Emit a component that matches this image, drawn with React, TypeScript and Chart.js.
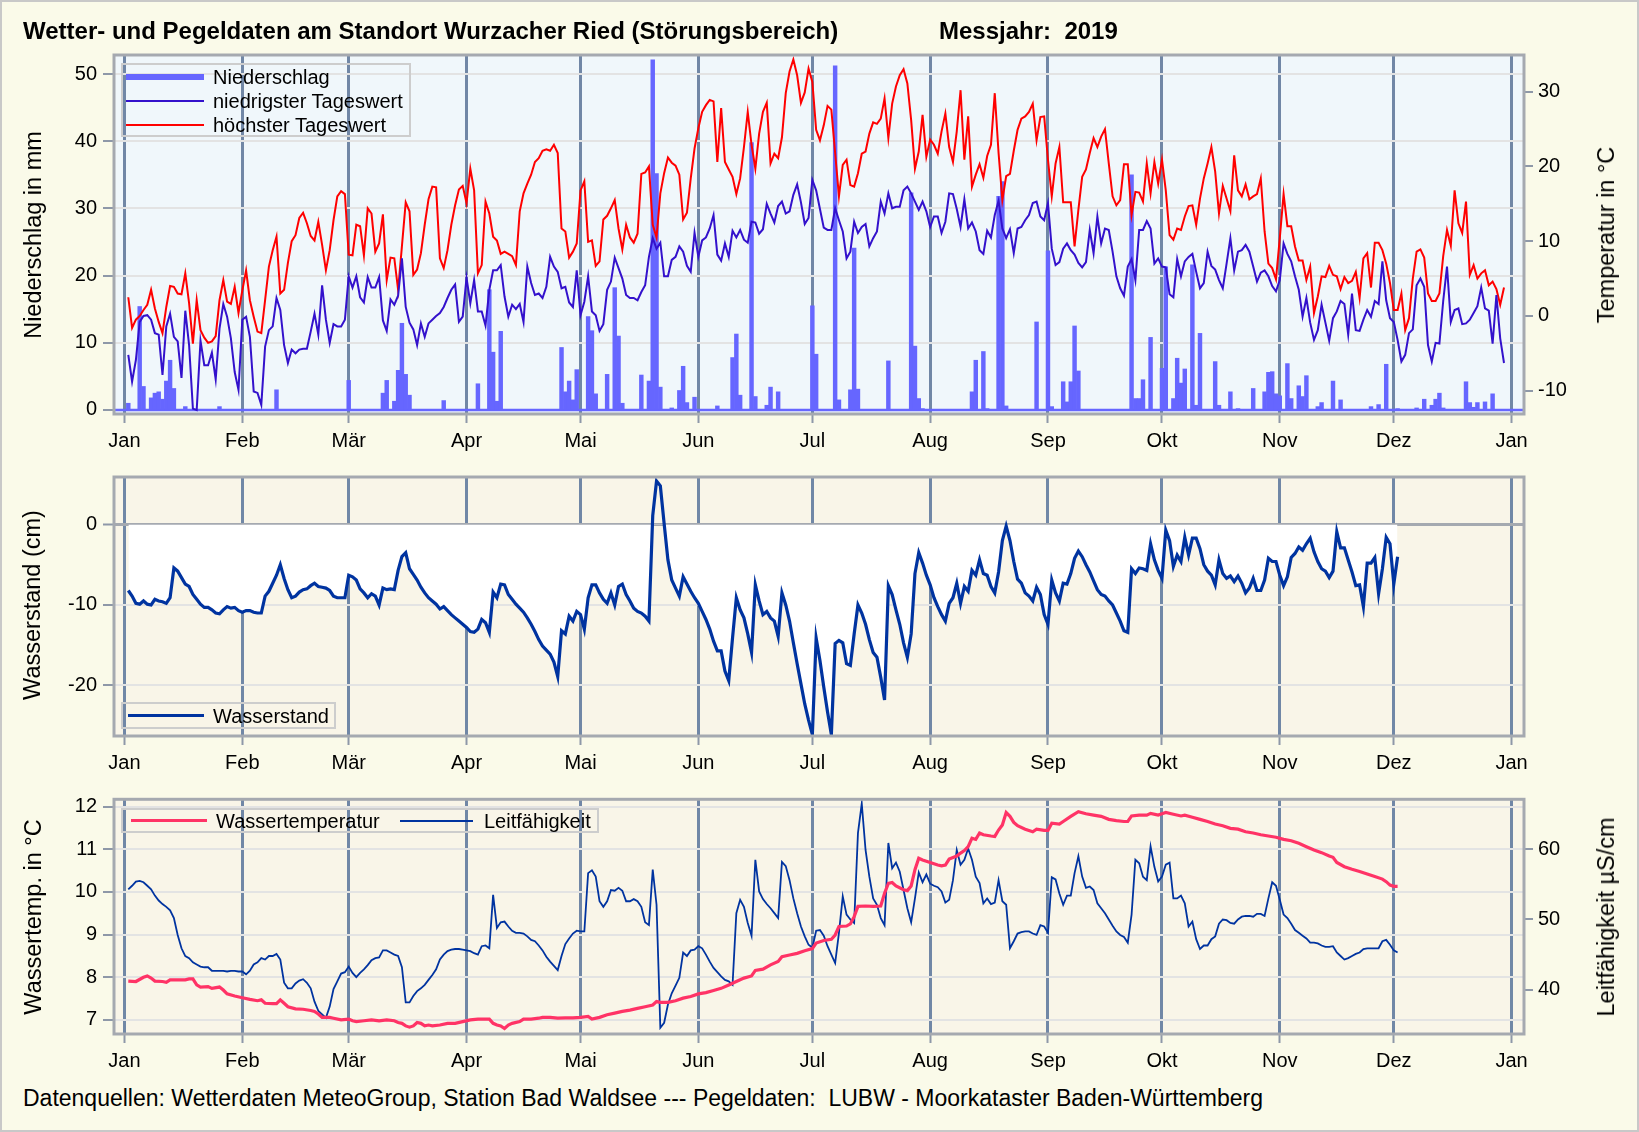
import React, { useEffect, useRef } from "react";
import { Chart, registerables } from "chart.js";

// ---------------- data ----------------
const monthStarts = [0, 31, 59, 90, 120, 151, 181, 212, 243, 273, 304, 334, 365];
const monthLabels = ["Jan", "Feb", "Mär", "Apr", "Mai", "Jun", "Jul", "Aug", "Sep", "Okt", "Nov", "Dez", "Jan"];

const precipTicks = [0, 10, 20, 30, 40, 50];
const airTempTicks = [-10, 0, 10, 20, 30];
const waterLevelTicks = [-20, -10, 0];
const waterTempTicks = [7, 8, 9, 10, 11, 12];
const conductTicks = [40, 50, 60];

// daily air temperature (day of year 1..363)
const highTemps = [
  2.5, -1.6, -0.5, 0, 0.8, 1.5, 3.5, 1.0, -0.8, -2.3,
  1.2, 4.0, 3.9, 3.0, 2.9, 5.7, 1.7, -3.7, 2.1, -1.9,
  -2.9, -3.6, -3.4, -2.7, 2.1, 4.8, 1.9, 1.6, 3.9, 0.4,
  3.4, 6.1, 2.1, -0.1, -2.1, -2.3, 2.1, 6.6, 8.8, 10.6,
  3.0, 3.5, 7.1, 10.0, 10.8, 13.1, 13.8, 12.4, 10.7, 10.1,
  12.6, 9.5, 6.1, 8.8, 12.8, 16.0, 16.7, 16.3, 8.2, 8.1,
  12.2, 12.0, 8.1, 14.4, 13.7, 8.6, 9.7, 13.6, 4.8, 7.8,
  7.7, 3.5, 9.3, 15.2, 14.0, 5.5, 6.2, 8.4, 12.2, 15.6,
  17.3, 17.2, 7.7, 6.4, 8.8, 12.2, 14.8, 16.9, 17.4, 15.1,
  19.7, 16.8, 5.7, 6.8, 15.3, 13.7, 10.6, 10.1, 8.3, 8.6,
  8.3, 8.0, 6.8, 14.0, 16.4, 17.7, 18.9, 20.6, 21.1, 22.1,
  22.3, 22.1, 22.9, 21.8, 11.7, 11.3, 7.8, 8.6, 9.7, 16.8,
  18.0, 9.9, 10.1, 6.7, 7.3, 12.9, 13.4, 14.4, 15.5, 11.7,
  8.9, 12.2, 10.5, 9.8, 11.0, 19.0, 19.2, 20.0, 12.2, 10.5,
  16.4, 19.1, 21.2, 20.5, 20.1, 18.9, 12.9, 13.8, 18.4, 22.4,
  25.1, 27.3, 28.2, 28.9, 28.7, 20.6, 27.8, 20.6, 19.6, 18.6,
  16.3, 18.4, 22.6, 27.3, 22.9, 19.7, 24.4, 27.3, 28.5, 20.4,
  21.7, 21.1, 23.9, 29.8, 32.7, 34.3, 32.2, 28.5, 29.9, 33.1,
  31.3, 24.9, 23.5, 25.5, 28.1, 27.6, 21.8, 16.0, 20.2, 20.9,
  17.5, 17.3, 19.1, 21.7, 22.0, 24.4, 25.9, 25.7, 26.4, 29.1,
  23.8, 28.4, 30.7, 32.2, 33.0, 31.1, 26.2, 19.7, 22.0, 26.9,
  21.3, 23.6, 22.9, 21.7, 24.7, 27.1, 22.6, 20.6, 24.7, 30.2,
  20.9, 26.7, 17.3, 18.9, 20.3, 18.5, 21.4, 22.9, 29.8, 21.8,
  15.5, 18.7, 19.0, 22.1, 24.9, 26.4, 26.7, 27.3, 28.4, 23.5,
  26.6, 26.7, 20.9, 16.0, 20.4, 22.6, 15.2, 15.2, 15.2, 9.3,
  14.2, 18.6, 19.6, 21.8, 23.8, 22.6, 24.0, 25.0, 20.4, 16.0,
  14.8, 15.5, 20.3, 20.3, 13.5, 16.6, 16.5, 15.3, 20.4, 16.4,
  20.6, 17.7, 20.9, 16.8, 10.8, 10.2, 11.7, 11.5, 13.3, 14.7,
  14.8, 12.2, 15.7, 18.4, 20.4, 22.6, 19.3, 13.7, 17.4, 15.7,
  14.0, 21.5, 16.8, 16.0, 17.6, 15.6, 16.0, 16.3, 18.4, 11.3,
  7.0, 6.4, 4.9, 10.4, 16.3, 12.0, 12.0, 9.3, 7.4, 7.4,
  4.8, 6.6, 0.4, 2.6, 5.3, 5.2, 6.7, 5.5, 5.3, 3.6,
  5.2, 4.4, 4.7, 5.9, 2.4, 7.7, 8.4, 3.8, 9.8, 9.8,
  8.8, 7.0, 4.4, 0.8, 0.8, 3.0, -1.9, -0.3, 5.0, 8.6,
  8.9, 7.8, 3.0, 2.0, 2.0, 3.0, 8.0, 11.5, 9.4, 16.8,
  12.4, 11.1, 15.3, 5.5, 6.8, 5.0, 5.7, 6.1, 4.1, 4.6,
  3.6, 1.5, 3.8,
];

const lowTemps = [
  -5.2, -8.8, -5.9, -0.8, 0.0, 0.1, -0.5, -2.3, -2.5, -7.9,
  -1.4, 0.3, -2.8, -3.4, -8.3, 0.7, -3.9, -12.4, -12.6, -3.3,
  -6.6, -6.6, -4.9, -8.5, -1.7, 1.6, -0.1, -3.0, -7.5, -9.9,
  -0.5, -0.1, -2.8, -10.1, -10.3, -11.9, -4.1, -1.9, -1.4, 2.4,
  0.8, -3.9, -6.3, -4.5, -5.0, -4.5, -4.4, -4.4, -2.1, 0.3,
  -2.5, 4.1, -0.5, -3.6, -1.1, -1.4, -1.4, -0.5, 5.3, 3.8,
  5.3, 2.5, 1.8, 5.2, 3.8, 3.8, 5.2, -0.6, -2.0, 2.2,
  1.5, 2.7, 7.7, 1.2, -0.9, -1.8, -3.9, -1.0, -2.8, -1.0,
  -0.5, 0.0, 0.4, 1.2, 2.4, 3.5, 4.2, -0.8, -0.1, 5.1,
  1.7, 4.8, 0.6, 0.6, -1.3, 3.5, 6.1, 6.1, 6.8, 2.6,
  -0.1, 1.5, 0.9, 1.6, -0.8, 6.6, 4.4, 2.8, 3.0, 2.4,
  3.9, 7.9, 6.6, 5.9, 3.7, 3.9, 1.8, 1.2, 6.1, 0.1,
  1.9, 5.3, 0.6, 0.1, -2.0, -1.1, 3.5, 4.6, 7.8, 6.4,
  5.0, 2.8, 2.4, 2.4, 2.1, 3.2, 4.1, 7.9, 10.4, 9.0,
  9.8, 5.3, 5.3, 7.5, 7.9, 9.3, 8.6, 6.7, 5.9, 11.1,
  7.9, 10.1, 10.5, 11.7, 13.5, 8.2, 7.4, 9.7, 7.9, 11.4,
  10.5, 11.5, 10.2, 9.8, 12.6, 12.5, 11.0, 11.6, 15.0, 13.7,
  12.5, 14.7, 15.3, 13.7, 14.0, 16.2, 17.6, 15.2, 12.3, 13.1,
  18.2, 16.8, 14.3, 11.8, 11.5, 11.5, 14.4, 12.8, 11.3, 7.7,
  8.6, 12.6, 11.1, 11.9, 12.3, 9.3, 10.4, 11.3, 15.3, 13.7,
  16.4, 14.4, 14.6, 14.6, 16.8, 17.3, 16.4, 15.3, 14.2, 15.3,
  14.0, 11.9, 13.3, 13.3, 11.1, 12.6, 16.4, 16.3, 14.3, 11.9,
  15.6, 11.7, 12.5, 11.3, 8.8, 8.3, 11.4, 10.5, 13.5, 15.4,
  11.7, 10.4, 11.6, 8.4, 11.7, 11.9, 12.8, 13.5, 15.1, 15.3,
  13.3, 12.8, 15.1, 9.0, 6.8, 7.2, 9.0, 9.7, 8.8, 8.2,
  7.1, 6.5, 7.2, 11.5, 8.4, 13.3, 9.7, 11.7, 11.5, 8.6,
  5.3, 3.7, 2.7, 6.6, 7.6, 4.8, 11.5, 11.5, 12.7, 11.7,
  7.0, 7.7, 6.6, 6.5, 2.9, 2.5, 7.6, 5.3, 7.3, 7.9,
  8.3, 5.9, 3.7, 4.4, 8.6, 6.7, 6.2, 4.8, 3.7, 7.0,
  10.4, 6.1, 8.6, 8.8, 9.5, 8.6, 6.6, 4.6, 5.8, 6.1,
  5.3, 4.0, 3.3, 4.8, 9.7, 8.3, 7.3, 5.3, 3.5, -0.1,
  2.4, -0.9, -3.2, -1.9, 1.5, -0.9, -3.3, -0.3, 0.6, 2.0,
  1.6, -2.5, 3.0, -1.9, -2.0, -0.5, 0.8, -0.1, 2.0, 1.6,
  7.3, 2.1, -0.3, -0.8, -3.2, -6.1, -5.2, -2.3, -1.8, 4.1,
  5.0, 3.9, -3.9, -6.1, -3.6, -3.7, 2.0, 6.6, -0.8, 0.8,
  1.0, -1.1, -1.0, -0.5, 0.4, 1.3, 3.8, 1.0, 0.7, -3.7,
  2.8, -3.0, -6.3,
];

// precipitation: days with rain and their amounts (mm)
const precipDays = [
  1, 4, 5, 7, 8, 9, 10, 11, 12, 13, 16, 25, 40, 59, 68, 69, 71, 72, 73, 74, 75, 84,
  93, 96, 97, 98, 99, 115, 116, 117, 118, 119, 122, 123, 124, 127, 129, 130, 131,
  136, 138, 139, 140, 141, 144, 146, 147, 148, 150, 156, 160, 161, 162, 165, 166,
  169, 170, 172, 181, 182, 187, 188, 191, 192, 193, 201, 207, 208, 209, 210, 223,
  224, 226, 227, 230, 231, 232, 240, 243, 244, 247, 248, 249, 250, 251, 265, 266,
  267, 268, 270, 273, 274, 276, 277, 278, 279, 281, 282, 283, 287, 288, 291, 293,
  297, 300, 301, 302, 303, 304, 306, 307, 309, 310, 311, 314, 315, 318, 320, 328,
  330, 332, 335, 340, 342, 344, 345, 346, 347, 353, 354, 355, 356, 358, 360,
];
const precipValues = [
  1.0, 15.4, 3.5, 1.8, 2.5, 2.7, 1.6, 4.3, 7.4, 3.2, 0.5, 0.5, 3.0, 4.4, 2.5, 4.4, 1.3, 5.9, 12.9, 5.3, 2.2, 1.4,
  3.9, 17.9, 8.6, 1.3, 11.7, 9.3, 2.7, 4.3, 1.5, 6.0, 13.9, 11.8, 2.4, 5.3, 18.2, 11.0, 1.0,
  5.2, 4.3, 52.1, 35.2, 3.4, 0.3, 2.9, 6.5, 1.1, 1.9, 0.6, 7.8, 11.3, 2.2, 39.8, 2.0,
  0.7, 3.4, 2.7, 15.5, 8.3, 51.2, 1.5, 3.0, 24.1, 3.1, 7.3, 32.3, 9.5, 1.7, 0.2, 2.7,
  7.4, 8.7, 0.2, 31.8, 34.0, 0.6, 13.1, 23.7, 0.5, 4.2, 1.2, 4.2, 12.5, 5.8, 35.0, 1.7,
  1.7, 4.5, 10.8, 6.2, 21.3, 1.7, 7.7, 4.0, 6.1, 21.6, 0.7, 11.4, 7.2, 0.7, 2.7, 0.2,
  3.2, 2.7, 5.6, 5.7, 2.4, 2.1, 6.9, 1.7, 3.6, 2.0, 5.1, 0.5, 1.1, 4.3, 1.5, 0.5,
  0.8, 6.8, 0.2, 0.3, 1.6, 0.7, 1.6, 2.5, 0.3, 4.2, 1.1, 0.4, 1.1, 1.2, 2.4,
];

// water level (cm), day 1..335
const waterLevel = [
  -8.2, -8.9, -9.8, -9.9, -9.5, -9.9, -10.0, -9.3, -9.5, -9.6,
  -9.8, -9.1, -5.4, -5.8, -6.6, -7.4, -7.7, -8.7, -9.3, -9.9,
  -10.3, -10.3, -10.6, -11.0, -11.1, -10.6, -10.2, -10.4, -10.3, -10.7,
  -10.9, -10.7, -10.7, -10.9, -11.0, -11.0, -8.9, -8.3, -7.3, -6.3,
  -5.0, -6.7, -8.1, -9.1, -8.9, -8.4, -8.1, -8.0, -7.6, -7.3,
  -7.7, -7.8, -7.9, -8.2, -8.9, -9.1, -9.1, -9.1, -6.3, -6.5,
  -6.9, -8.0, -8.5, -9.1, -8.6, -8.9, -10.0, -7.9, -8.1, -8.0,
  -8.1, -5.7, -4.0, -3.5, -5.5, -6.2, -6.9, -7.8, -8.5, -9.1,
  -9.5, -9.9, -10.5, -10.2, -10.7, -11.2, -11.6, -12.0, -12.4, -12.8,
  -13.3, -13.4, -13.0, -11.8, -12.2, -13.4, -8.4, -9.1, -7.4, -7.5,
  -8.7, -9.3, -9.9, -10.4, -10.9, -11.6, -12.4, -13.3, -14.3, -15.1,
  -15.6, -16.1, -17.1, -18.9, -13.2, -13.6, -11.4, -12.0, -10.8, -11.2,
  -13.0, -9.1, -7.5, -7.5, -8.5, -9.3, -9.8, -8.5, -10.0, -7.7,
  -7.4, -8.7, -9.5, -10.4, -10.8, -11.0, -11.4, -12.0, 1.1, 5.4,
  4.8, 0.1, -4.4, -6.9, -7.9, -8.9, -6.5, -7.4, -8.3, -9.1,
  -9.8, -10.8, -11.8, -13.0, -14.5, -15.7, -15.7, -18.2, -19.4, -14.1,
  -9.1, -10.6, -11.6, -13.6, -15.9, -7.5, -9.5, -11.2, -10.8, -11.6,
  -12.0, -13.9, -8.5, -10.0, -12.0, -14.7, -17.3, -19.8, -22.3, -24.3,
  -26.1, -14.1, -16.9, -20.2, -23.3, -26.1, -14.8, -14.4, -14.7, -17.3,
  -17.5, -13.6, -10.0, -11.0, -12.4, -14.3, -15.9, -16.5, -19.0, -21.8,
  -7.6, -8.7, -10.6, -12.4, -14.7, -16.5, -13.6, -6.1, -3.5, -4.8,
  -6.3, -7.5, -9.1, -10.2, -11.2, -12.0, -9.8, -9.1, -7.3, -9.8,
  -7.7, -8.3, -5.7, -6.3, -4.4, -6.1, -6.3, -7.7, -8.5, -5.9,
  -2.0, -0.2, -2.0, -4.6, -6.8, -7.3, -8.5, -8.9, -9.5, -7.8,
  -8.7, -11.2, -12.4, -6.9, -8.5, -9.5, -7.3, -7.4, -6.1, -4.2,
  -3.3, -4.0, -5.0, -5.9, -7.0, -8.1, -8.7, -8.9, -9.5, -10.0,
  -11.0, -12.0, -13.2, -13.4, -5.5, -6.1, -5.4, -5.5, -5.7, -2.4,
  -4.4, -5.7, -6.7, -0.7, -2.0, -5.2, -3.8, -4.6, -1.6, -3.8,
  -1.7, -1.7, -3.0, -5.0, -5.8, -6.3, -7.5, -4.4, -6.1, -6.7,
  -6.4, -7.1, -6.4, -7.3, -8.5, -7.9, -6.7, -8.2, -8.2, -6.9,
  -4.2, -4.6, -4.6, -6.3, -7.6, -6.5, -4.1, -3.6, -2.8, -3.2,
  -2.4, -1.7, -3.4, -4.6, -5.5, -5.8, -6.6, -5.8, -0.9, -2.9,
  -2.9, -4.4, -5.9, -7.6, -7.5, -10.2, -4.8, -4.8, -4.1, -8.6,
  -5.5, -1.6, -2.4, -7.4, -4.0,
];

// water temperature (°C): sampled days and values
const waterTempDays = [
  1, 3, 5, 6, 7, 8, 10, 11, 12, 14, 16, 17, 18, 19, 20, 22, 23, 25, 26, 27, 29, 31, 33, 35, 36, 37, 39, 40,
  41, 42, 43, 45, 47, 49, 50, 51, 52, 54, 55, 57, 59, 60, 61, 63, 65, 67, 69, 71, 72, 73, 74, 75, 76, 77,
  78, 79, 80, 81, 83, 85, 87, 89, 91, 93, 95, 96, 97, 98, 99, 100, 101, 102, 104, 105, 107, 109, 110, 112,
  114, 116, 118, 120, 122, 123, 125, 127, 129, 131, 133, 135, 137, 139, 140, 141, 143, 145, 147, 149, 151,
  153, 155, 157, 159, 161, 163, 165, 166, 168, 170, 172, 173, 175, 177, 179, 181, 182, 184, 186, 187, 188,
  190, 191, 192, 193, 195, 197, 199, 200, 201, 202, 203, 205, 206, 207, 208, 209, 210, 212, 214, 215, 216,
  217, 219, 220, 221, 222, 223, 224, 225, 226, 228, 229, 230, 231, 232, 233, 234, 235, 237, 239, 240, 242,
  243, 244, 246, 247, 249, 251, 253, 255, 257, 259, 261, 263, 264, 265, 267, 269, 270, 272, 273, 274, 276,
  278, 279, 281, 283, 285, 287, 289, 291, 293, 295, 297, 299, 301, 303, 305, 307, 309, 311, 313, 315, 317,
  318, 319, 321, 323, 325, 327, 329, 331, 332, 333, 334, 335,
];
const waterTempValues = [
  7.91, 7.9, 8.0, 8.03, 7.98, 7.91, 7.9, 7.88, 7.94, 7.94, 7.94, 7.96, 7.96, 7.82, 7.77, 7.78, 7.74, 7.77, 7.7, 7.61, 7.56, 7.52, 7.48, 7.45, 7.47, 7.39, 7.38, 7.38,
  7.47, 7.39, 7.31, 7.26, 7.25, 7.22, 7.2, 7.14, 7.06, 7.06, 7.04, 7.0, 7.02, 6.98, 6.96, 6.98, 7.0, 6.98, 7.0, 6.98, 6.94, 6.92, 6.86, 6.83, 6.86, 6.94,
  6.92, 6.86, 6.88, 6.86, 6.88, 6.92, 6.92, 6.96, 7.0, 7.02, 7.02, 7.02, 6.92, 6.88, 6.86, 6.8, 6.88, 6.92, 6.96, 7.02, 7.02, 7.04, 7.06, 7.06,
  7.04, 7.05, 7.05, 7.06, 7.08, 7.02, 7.06, 7.12, 7.16, 7.2, 7.23, 7.27, 7.31, 7.35, 7.43, 7.41, 7.41, 7.45, 7.51, 7.55, 7.61,
  7.64, 7.69, 7.74, 7.82, 7.9, 7.98, 8.03, 8.16, 8.19, 8.29, 8.37, 8.48, 8.52, 8.56, 8.62, 8.67, 8.8, 8.86, 8.89, 8.99, 9.19,
  9.2, 9.25, 9.42, 9.66, 9.67, 9.66, 9.67, 9.97, 10.2, 10.22, 10.14, 10.05, 10.03, 10.14, 10.52, 10.79, 10.75, 10.69, 10.63, 10.61, 10.63,
  10.77, 10.84, 10.91, 10.97, 11.06, 11.26, 11.23, 11.38, 11.34, 11.31, 11.3, 11.45, 11.57, 11.86, 11.77, 11.63, 11.55, 11.47, 11.41, 11.47, 11.44,
  11.44, 11.61, 11.59, 11.65, 11.77, 11.88, 11.83, 11.8, 11.77, 11.7, 11.67, 11.65, 11.65, 11.78, 11.8, 11.8, 11.84, 11.8, 11.83, 11.86, 11.82,
  11.78, 11.8, 11.75, 11.7, 11.65, 11.59, 11.55, 11.49, 11.47, 11.41, 11.38, 11.34, 11.31, 11.28, 11.23, 11.2, 11.14, 11.06, 10.98, 10.92, 10.84,
  10.81, 10.69, 10.59, 10.53, 10.48, 10.42, 10.36, 10.3, 10.24, 10.16, 10.13, 10.13,
];

// conductivity (µS/cm), day 1..335
const conductivity = [
  54.3, 54.8, 55.4, 55.5, 55.3, 54.8, 54.3, 53.4, 52.7, 52.2,
  51.8, 51.3, 50.2, 47.8, 45.9, 44.8, 44.5, 43.9, 43.6, 43.3,
  43.2, 43.2, 42.7, 42.7, 42.7, 42.7, 42.6, 42.7, 42.7, 42.6,
  42.6, 42.2, 42.7, 43.6, 43.9, 44.5, 44.3, 44.8, 44.8, 45.1,
  44.3, 41.0, 40.2, 40.2, 40.9, 41.3, 41.5, 41.0, 40.2, 38.3,
  37.0, 36.5, 36.0, 37.6, 40.1, 41.2, 42.3, 42.5, 43.3, 42.4,
  41.8, 42.4, 42.9, 43.5, 44.2, 44.5, 44.6, 45.6, 45.6, 45.3,
  45.0, 44.8, 43.2, 38.2, 38.2, 39.1, 39.8, 40.2, 40.7, 41.4,
  42.1, 42.9, 44.3, 45.0, 45.5, 45.7, 45.8, 45.8, 45.7, 45.6,
  45.5, 45.2, 45.0, 46.2, 46.3, 45.9, 53.5, 48.8, 49.6, 49.7,
  49.0, 48.4, 48.1, 48.1, 48.0, 47.6, 47.1, 46.9, 46.3, 45.6,
  44.7, 44.0, 43.4, 42.8, 44.8, 46.5, 47.3, 48.0, 48.4, 48.3,
  48.3, 56.6, 57.0, 56.1, 52.6, 51.8, 52.6, 54.2, 54.1, 54.5,
  54.1, 52.6, 52.6, 52.9, 52.6, 51.8, 49.6, 49.2, 57.1, 52.1,
  34.6, 35.3, 37.9, 39.5, 40.6, 41.7, 45.3, 44.8, 45.6, 45.7,
  46.2, 45.9, 45.0, 44.0, 43.1, 42.5, 41.9, 41.4, 41.2, 40.7,
  50.9, 52.8, 51.8, 49.5, 47.7, 58.5, 54.0, 52.9, 52.2, 51.6,
  50.9, 50.2, 58.2, 57.6, 55.6, 53.0, 50.9, 49.0, 47.6, 46.4,
  46.0, 48.4, 48.5, 47.7, 46.2, 45.0, 43.8, 48.1, 53.3, 50.7,
  50.0, 49.5, 62.3, 66.5, 59.9, 56.1, 53.0, 52.1, 50.2, 49.2,
  60.9, 57.3, 58.1, 56.8, 54.2, 51.6, 49.6, 53.0, 56.7, 55.3,
  56.4, 55.1, 54.8, 54.6, 54.0, 52.4, 52.8, 55.6, 59.9, 57.8,
  58.5, 60.1, 58.5, 56.1, 55.2, 52.3, 53.0, 52.2, 52.4, 55.6,
  52.6, 52.1, 45.9, 46.9, 48.0, 48.2, 48.3, 48.3, 48.0, 47.8,
  49.2, 49.0, 48.1, 56.0, 55.7, 53.7, 52.1, 53.4, 53.4, 56.6,
  59.0, 56.1, 54.5, 54.7, 54.2, 52.3, 51.6, 50.9, 50.0, 49.1,
  48.3, 47.8, 47.5, 46.7, 50.7, 58.5, 58.0, 56.1, 55.6, 60.4,
  57.5, 55.4, 56.1, 57.8, 58.1, 53.0, 53.0, 53.4, 52.3, 49.0,
  49.7, 47.2, 45.8, 46.3, 46.3, 47.2, 47.6, 49.4, 50.0, 49.9,
  49.5, 49.4, 50.0, 50.4, 50.5, 50.5, 50.4, 50.8, 50.8, 50.5,
  53.0, 55.3, 54.8, 52.8, 50.7, 50.2, 49.4, 48.5, 48.1, 47.7,
  47.3, 46.7, 46.7, 46.6, 46.3, 46.1, 46.1, 46.2, 45.3, 44.8,
  44.3, 44.5, 44.8, 45.1, 45.3, 45.8, 45.9, 45.9, 45.9, 45.9,
  46.9, 47.1, 46.4, 45.6, 45.3,
];

// ---------------- style ----------------
const FONT = "'Liberation Sans', Arial, Helvetica, sans-serif";
const PAGE_BG = "#fafae9";
const P1_BG = "#f0f7fb";
const P23_BG = "#f9f5e8";
const MONTH_LINE = "#7187a6";
const GRID = "#e3e3e3";
const FRAME = "#a5a9b0";
const TICK = "#8e98a8";
const TICK_FONT = { family: FONT, size: 20 };
const X_MIN = -2.76;
const X_MAX = 368.26;

const plotPlugin = {
  id: "plotDeco",
  beforeDraw(chart: any, _a: any, opts: any) {
    const { ctx, chartArea: a } = chart;
    ctx.save();
    ctx.fillStyle = opts.bg;
    ctx.fillRect(a.left, a.top, a.right - a.left, a.bottom - a.top);
    ctx.restore();
  },
  beforeDatasetsDraw(chart: any, _a: any, opts: any) {
    if (!opts.baseline) return;
    const { ctx, chartArea: a } = chart;
    const y = chart.scales[opts.baseline.axis].getPixelForValue(opts.baseline.value);
    ctx.save();
    ctx.strokeStyle = opts.baseline.color;
    ctx.lineWidth = 2.5;
    ctx.beginPath();
    ctx.moveTo(a.left, y);
    ctx.lineTo(a.right, y);
    ctx.stroke();
    ctx.restore();
  },
  afterDraw(chart: any) {
    const { ctx, chartArea: a } = chart;
    ctx.save();
    ctx.strokeStyle = FRAME;
    ctx.lineWidth = 3;
    ctx.strokeRect(a.left, a.top, a.right - a.left, a.bottom - a.top);
    ctx.restore();
  },
};

Chart.register(...registerables);

function xScale() {
  return {
    type: "linear",
    position: "bottom",
    min: X_MIN,
    max: X_MAX,
    offset: false,
    afterBuildTicks: (s: any) => {
      s.ticks = monthStarts.map((v) => ({ value: v }));
    },
    afterFit: (s: any) => {
      s.height = 45;
    },
    ticks: {
      autoSkip: false,
      maxRotation: 0,
      padding: 6,
      color: "#000",
      font: TICK_FONT,
      callback: (_v: any, i: number) => monthLabels[i],
    },
    grid: {
      offset: false,
      color: MONTH_LINE,
      lineWidth: 3,
      tickColor: TICK,
      tickWidth: 2,
      tickLength: 9,
      drawTicks: true,
    },
    border: { display: false },
  };
}

function yScale(o: any) {
  return {
    type: "linear",
    position: o.position,
    min: o.min,
    max: o.max,
    afterBuildTicks: (s: any) => {
      s.ticks = o.ticks.map((v: number) => ({ value: v }));
    },
    afterFit: (s: any) => {
      s.width = o.width;
    },
    ticks: {
      color: "#000",
      font: TICK_FONT,
      padding: o.padding,
      callback: (v: any) => String(v),
    },
    grid: {
      drawOnChartArea: o.grid,
      color: o.gridColor || GRID,
      lineWidth: o.gridWidth || 2,
      tickColor: TICK,
      tickWidth: 2,
      tickLength: o.tickLength,
    },
    border: { display: false },
  };
}

const baseOptions = (padding: any, bg: string, scales: any, baseline?: any) => ({
  responsive: false,
  animation: false,
  devicePixelRatio: 1,
  layout: { padding },
  scales,
  plugins: {
    legend: { display: false },
    tooltip: { enabled: false },
    plotDeco: { bg, baseline },
  },
});

function config1(): any {
  return {
    type: "bar",
    data: {
      datasets: [
        {
          type: "line",
          label: "niedrigster Tageswert",
          data: lowTemps.map((v, i) => ({ x: i + 1, y: v })),
          yAxisID: "y1",
          borderColor: "#3311cc",
          borderWidth: 2,
          pointRadius: 0,
          tension: 0,
          order: 1,
        },
        {
          type: "line",
          label: "höchster Tageswert",
          data: highTemps.map((v, i) => ({ x: i + 1, y: v })),
          yAxisID: "y1",
          borderColor: "#ff0000",
          borderWidth: 2,
          pointRadius: 0,
          tension: 0,
          order: 2,
        },
        {
          type: "bar",
          label: "Niederschlag",
          data: precipDays.map((d, i) => ({ x: d, y: precipValues[i] })),
          yAxisID: "y",
          backgroundColor: "#6666ff",
          borderWidth: 0,
          barPercentage: 1,
          categoryPercentage: 1,
          order: 3,
        },
      ],
    },
    options: baseOptions({ top: 55, left: 0, right: 0, bottom: 0 }, P1_BG, {
      x: xScale(),
      y: yScale({ position: "left", min: -0.6, max: 52.83, ticks: precipTicks, width: 114, padding: 6, tickLength: 11, grid: true }),
      y1: yScale({ position: "right", min: -13.12, max: 34.91, ticks: airTempTicks, width: 115, padding: 5, tickLength: 9, grid: false }),
    }, { axis: "y", value: 0, color: "#6666ff" }),
    plugins: [plotPlugin],
  };
}

function config2(): any {
  return {
    type: "line",
    data: {
      datasets: [
        {
          label: "Wasserstand",
          data: waterLevel.map((v, i) => ({ x: i + 1, y: v })),
          borderColor: "#0033a0",
          borderWidth: 3.2,
          pointRadius: 0,
          tension: 0,
          fill: { target: { value: 0 }, above: "rgba(0,0,0,0)", below: "#ffffff" },
        },
      ],
    },
    options: baseOptions({ top: 15.3, left: 0, right: 115, bottom: 0 }, P23_BG, {
      x: xScale(),
      y: yScale({
        position: "left", min: -26.28, max: 5.9, ticks: waterLevelTicks, width: 114, padding: 6, tickLength: 11, grid: true,
        gridColor: (c: any) => (c.tick && c.tick.value === 0 ? FRAME : GRID),
        gridWidth: (c: any) => (c.tick && c.tick.value === 0 ? 3 : 2),
      }),
    }),
    plugins: [plotPlugin],
  };
}

function config3(): any {
  return {
    type: "line",
    data: {
      datasets: [
        {
          label: "Wassertemperatur",
          data: waterTempDays.map((d, i) => ({ x: d, y: waterTempValues[i] })),
          yAxisID: "y",
          borderColor: "#ff3366",
          borderWidth: 3.2,
          pointRadius: 0,
          tension: 0,
          order: 1,
        },
        {
          label: "Leitfähigkeit",
          data: conductivity.map((v, i) => ({ x: i + 1, y: v })),
          yAxisID: "y1",
          borderColor: "#0033a0",
          borderWidth: 1.8,
          pointRadius: 0,
          tension: 0,
          order: 2,
        },
      ],
    },
    options: baseOptions({ top: 18.3, left: 0, right: 0, bottom: 0 }, P23_BG, {
      x: xScale(),
      y: yScale({ position: "left", min: 6.67, max: 12.17, ticks: waterTempTicks, width: 114, padding: 6, tickLength: 11, grid: true }),
      y1: yScale({ position: "right", min: 33.7, max: 67.11, ticks: conductTicks, width: 115, padding: 5, tickLength: 9, grid: false }),
    }),
    plugins: [plotPlugin],
  };
}

// ---------------- components ----------------
const abs = (s: any) => ({ position: "absolute" as const, ...s });

function VTitle({ text, cx, cy }: { text: string; cx: number; cy: number }) {
  return (
    <div
      style={abs({
        left: cx,
        top: cy,
        transform: "translate(-50%, -50%) rotate(-90deg)",
        whiteSpace: "nowrap",
        fontSize: 23.5,
        lineHeight: "24px",
        color: "#000",
      })}
    >
      {text}
    </div>
  );
}

function Legend({ left, top, width, height, items }: any) {
  return (
    <div style={abs({ left, top, width, height, border: "2px solid #cdcdcd", boxSizing: "border-box" })}>
      {items.map((it: any, k: number) => (
        <React.Fragment key={k}>
          <div
            style={abs({
              left: it.sx,
              top: it.cy - it.w / 2,
              width: it.sw,
              height: it.w,
              background: it.color,
            })}
          />
          <div
            style={abs({
              left: it.tx,
              top: it.cy - 11,
              height: 22,
              lineHeight: "22px",
              fontSize: 20,
              whiteSpace: "nowrap",
              color: "#000",
            })}
          >
            {it.label}
          </div>
        </React.Fragment>
      ))}
    </div>
  );
}

export default function App() {
  const r1 = useRef<HTMLCanvasElement>(null);
  const r2 = useRef<HTMLCanvasElement>(null);
  const r3 = useRef<HTMLCanvasElement>(null);

  useEffect(() => {
    const charts = [
      new Chart(r1.current as HTMLCanvasElement, config1()),
      new Chart(r2.current as HTMLCanvasElement, config2()),
      new Chart(r3.current as HTMLCanvasElement, config3()),
    ];
    return () => charts.forEach((c) => c.destroy());
  }, []);

  return (
    <div
      style={abs({
        left: 0,
        top: 0,
        width: 1639,
        height: 1132,
        background: PAGE_BG,
        boxShadow: "inset 0 0 0 2px #c8c8c8",
        overflow: "hidden",
        fontFamily: FONT,
        color: "#000",
      })}
    >
      <canvas ref={r1} width={1639} height={459} style={abs({ left: 0, top: 0, width: 1639, height: 459 })} />
      <canvas ref={r2} width={1639} height={322} style={abs({ left: 0, top: 459, width: 1639, height: 322 })} />
      <canvas ref={r3} width={1639} height={298} style={abs({ left: 0, top: 781, width: 1639, height: 298 })} />

      <div style={abs({ left: 23, top: 19, fontSize: 24, lineHeight: "24px", fontWeight: "bold", whiteSpace: "pre" })}>
        Wetter- und Pegeldaten am Standort Wurzacher Ried (Störungsbereich)
      </div>
      <div style={abs({ left: 939, top: 19, fontSize: 24, lineHeight: "24px", fontWeight: "bold", whiteSpace: "pre" })}>
        {"Messjahr:  2019"}
      </div>

      <VTitle text="Niederschlag in mm" cx={33} cy={234.5} />
      <VTitle text="Temperatur in °C" cx={1606} cy={234.5} />
      <VTitle text="Wasserstand (cm)" cx={32} cy={605} />
      <VTitle text="Wassertemp. in °C" cx={33} cy={917} />
      <VTitle text="Leitfähigkeit µS/cm" cx={1606} cy={917} />

      <Legend
        left={121}
        top={63}
        width={290}
        height={74}
        items={[
          { label: "Niederschlag", color: "#6666ff", w: 6, sx: 3, sw: 78, tx: 90, cy: 12 },
          { label: "niedrigster Tageswert", color: "#3311cc", w: 2, sx: 3, sw: 78, tx: 90, cy: 36 },
          { label: "höchster Tageswert", color: "#ff0000", w: 2, sx: 3, sw: 78, tx: 90, cy: 60 },
        ]}
      />
      <Legend
        left={121}
        top={702}
        width={215}
        height={27}
        items={[{ label: "Wasserstand", color: "#0033a0", w: 3, sx: 5, sw: 76, tx: 90, cy: 11.5 }]}
      />
      <Legend
        left={121}
        top={808}
        width={478}
        height={25}
        items={[
          { label: "Wassertemperatur", color: "#ff3366", w: 3.5, sx: 8, sw: 76, tx: 93, cy: 10.5 },
          { label: "Leitfähigkeit", color: "#0033a0", w: 2, sx: 277, sw: 73, tx: 361, cy: 10.5 },
        ]}
      />

      <div style={abs({ left: 23, top: 1087, fontSize: 23, lineHeight: "23px", whiteSpace: "pre" })}>
        {"Datenquellen: Wetterdaten MeteoGroup, Station Bad Waldsee --- Pegeldaten:  LUBW - Moorkataster Baden-Württemberg"}
      </div>
    </div>
  );
}
